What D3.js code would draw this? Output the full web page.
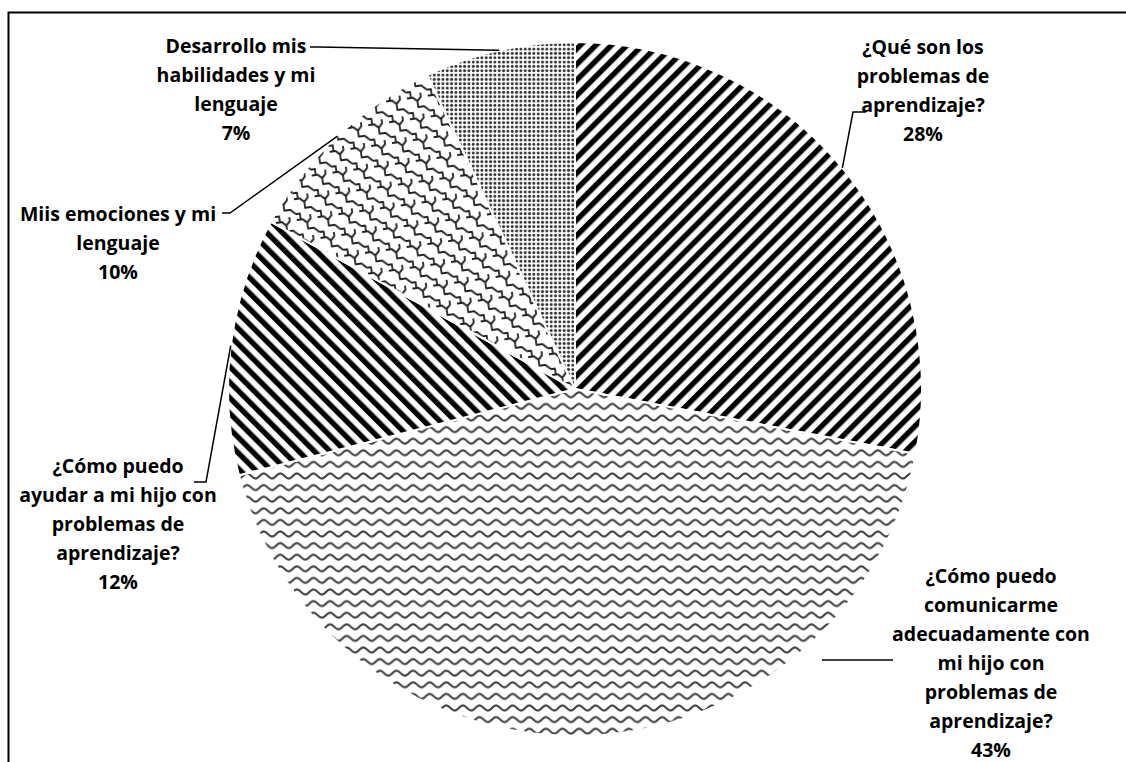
<!DOCTYPE html>
<html>
<head>
<meta charset="utf-8">
<script src="https://cdn.jsdelivr.net/npm/d3@7"></script>
<style>
  html, body { margin: 0; padding: 0; background: #fff; }
  svg { display: block; }
  text { font-family: "Open Sans", "Noto Sans", sans-serif; font-weight: 700; font-size: 19.5px; fill: #000; }
</style>
</head>
<body>
<svg id="chart" width="1126" height="762"></svg>
<script>
// Topics requested (share of responses), clockwise from 12 o'clock
const categories = [
  "¿Qué son los problemas de aprendizaje?",
  "¿Cómo puedo comunicarme adecuadamente con mi hijo con problemas de aprendizaje?",
  "¿Cómo puedo ayudar a mi hijo con problemas de aprendizaje?",
  "Miis emociones y mi lenguaje",
  "Desarrollo mis habilidades y mi lenguaje"
];
const values = [28, 43, 12, 10, 7];
const percentLabels = ["28%", "43%", "12%", "10%", "7%"];
const labelLines = [
  ["¿Qué son los", "problemas de", "aprendizaje?"],
  ["¿Cómo puedo", "comunicarme", "adecuadamente con", "mi hijo con", "problemas de", "aprendizaje?"],
  ["¿Cómo puedo", "ayudar a mi hijo con", "problemas de", "aprendizaje?"],
  ["Miis emociones y mi", "lenguaje"],
  ["Desarrollo mis", "habilidades y mi", "lenguaje"]
];
const patternIds = ["upDiag", "wave", "downDiag", "shingle", "dots"];

// Layout
const cx = 575, cy = 389, R = 347;
const lineH = 29;
// label block anchors: centre x, baseline of first line
const labelPos = [[923, 54], [991, 583], [118, 473], [118, 221], [236, 53]];
// label-side end of each leader line (the pie side comes from the slice)
const leaderLabelSide = [
  [[866, 112], [853, 112]],
  [[893, 660], [822, 660]],
  [[194, 482], [206, 482]],
  [[222, 213], [230, 213]],
  [[310, 47], [318, 47]]
];

const svg = d3.select("#chart");
const defs = svg.append("defs");

// wide diagonal stripes
function stripes(id, angle) {
  const p = defs.append("pattern").attr("id", id)
    .attr("patternUnits", "userSpaceOnUse")
    .attr("width", 11).attr("height", 11)
    .attr("patternTransform", `rotate(${angle})`);
  p.append("rect").attr("width", 11).attr("height", 11).attr("fill", "#fff");
  p.append("rect").attr("width", 5.4).attr("height", 11).attr("fill", "#000");
}
stripes("upDiag", 45);
stripes("downDiag", -45);

// wavy horizontal lines, built from quarter-period curve segments
{
  const w = 16.6, h = 11.6;
  const p = defs.append("pattern").attr("id", "wave")
    .attr("patternUnits", "userSpaceOnUse")
    .attr("width", w).attr("height", h);
  p.append("rect").attr("width", w).attr("height", h).attr("fill", "#fff");
  const seg = w / 4;
  let d = `M${-w},5.8`;
  for (let k = 0; k < 12; k++) {
    const x0 = -w + k * seg;
    const q = k % 4;
    const yTarget = q === 0 ? 3.3 : q === 1 ? 5.8 : q === 2 ? 8.3 : 5.8;
    const yCtrl = q < 2 ? 3.3 : 8.3;
    const xCtrl = x0 + (q % 2 === 0 ? seg * 0.6 : seg * 0.4);
    d += ` Q${xCtrl},${yCtrl} ${x0 + seg},${yTarget}`;
  }
  p.append("path").attr("d", d)
    .attr("fill", "none").attr("stroke", "#404040").attr("stroke-width", 2.1)
    .attr("stroke-linejoin", "round");
}

// shingle lattice
{
  const s = 21;
  const p = defs.append("pattern").attr("id", "shingle")
    .attr("patternUnits", "userSpaceOnUse")
    .attr("width", s).attr("height", s)
    .attr("patternTransform", "rotate(-8)");
  p.append("rect").attr("width", s).attr("height", s).attr("fill", "#fff");
  const g = p.append("g").attr("fill", "none").attr("stroke", "#222").attr("stroke-width", 1.8)
    .attr("stroke-linejoin", "round");
  for (const [dx, dy] of [[0, 0], [-s, 0], [0, -s], [-s, -s], [s, 0], [0, s]]) {
    g.append("path").attr("transform", `translate(${dx},${dy})`)
      .attr("d", "M0,4 L6,4 L10,8 L10,14 L16,14 L21,19 M10,8 L14,4 L14,0 M0,19 L4,19 L4,25");
  }
}

// fine dot grid
{
  const s = 4.33;
  const p = defs.append("pattern").attr("id", "dots")
    .attr("patternUnits", "userSpaceOnUse")
    .attr("width", s).attr("height", s);
  p.append("rect").attr("width", s).attr("height", s).attr("fill", "#fff");
  p.append("circle").attr("cx", s / 2).attr("cy", s / 2).attr("r", 1.5).attr("fill", "#333");
}

// outer frame (right and bottom edges run past the page)
svg.append("rect")
  .attr("x", 8.5).attr("y", 12.5).attr("width", 1300).attr("height", 900)
  .attr("fill", "#fff").attr("stroke", "#000").attr("stroke-width", 2);

const pie = d3.pie().sort(null).value(d => d)(values);
const arc = d3.arc().innerRadius(0).outerRadius(R);

const g = svg.append("g").attr("transform", `translate(${cx},${cy})`);
g.selectAll("path.slice")
  .data(pie)
  .join("path")
  .attr("class", "slice")
  .attr("d", arc)
  .attr("fill", (d, i) => `url(#${patternIds[i]})`)
  .attr("stroke", "#fff")
  .attr("stroke-width", 2)
  .attr("stroke-linejoin", "round");

// leader lines from each label to the middle of its slice's rim
pie.forEach((d, i) => {
  const pts = leaderLabelSide[i].slice();
  if (i !== 1) {
    const mid = (d.startAngle + d.endAngle) / 2;
    pts.push([cx + R * Math.sin(mid), cy - R * Math.cos(mid)]);
  }
  svg.append("path")
    .attr("d", d3.line()(pts))
    .attr("fill", "none").attr("stroke", "#000").attr("stroke-width", 1.5);
});

// data labels
pie.forEach((d, i) => {
  const [x, y] = labelPos[i];
  const t = svg.append("text").attr("text-anchor", "middle");
  const lines = labelLines[i].concat([percentLabels[i]]);
  lines.forEach((ln, k) => {
    t.append("tspan").attr("x", x).attr("y", y + k * lineH).text(ln);
  });
});
</script>
</body>
</html>
